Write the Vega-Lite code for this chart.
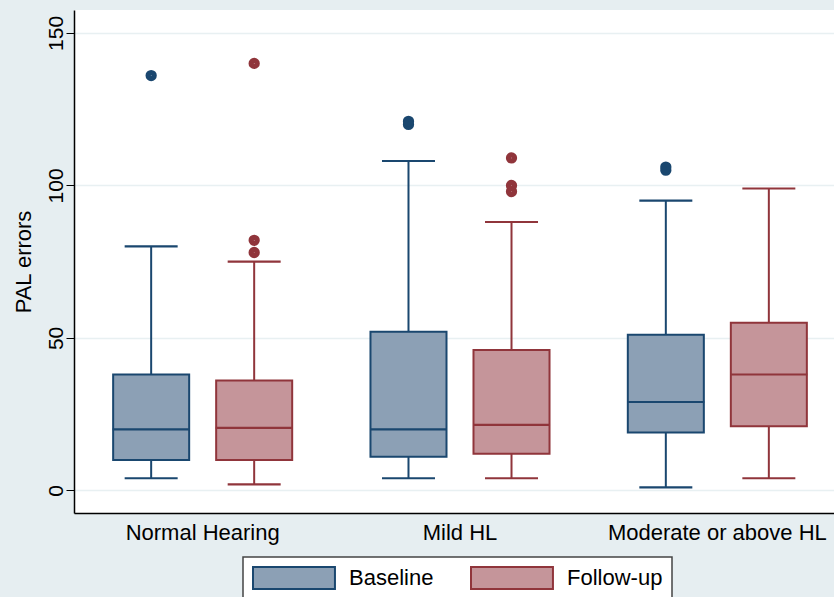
{
  "$schema": "https://vega.github.io/schema/vega-lite/v6.json",
  "autosize": {"type": "none"},
  "padding": {"left": 74, "top": 10, "right": 0, "bottom": 84},
  "width": 760,
  "height": 503,
  "background": "#E6EEF1",
  "config": {
    "font": "Liberation Sans",
    "view": {"fill": "white", "stroke": null},
    "axis": {"labelColor": "black", "titleColor": "black", "domainColor": "black", "domainWidth": 1.5, "tickColor": "black"},
    "legend": {
      "orient": "none",
      "legendX": 169,
      "legendY": 547,
      "direction": "horizontal",
      "fillColor": "white",
      "strokeColor": "#444444",
      "strokeWidth": 1.5,
      "padding": 9,
      "symbolType": "M-1,-1L6.45,-1L6.45,1L-1,1Z",
      "symbolSize": 484,
      "symbolStrokeWidth": 2,
      "symbolOpacity": 1,
      "labelFontSize": 22,
      "labelColor": "black",
      "labelOffset": 73,
      "columnPadding": 33,
      "title": null
    }
  },
  "datasets": {
    "stats": [
      {"group": "Normal Hearing", "series": "Baseline", "lo": 4, "q1": 10, "median": 20, "q3": 38, "hi": 80},
      {"group": "Normal Hearing", "series": "Follow-up", "lo": 2, "q1": 10, "median": 20.5, "q3": 36, "hi": 75},
      {"group": "Mild HL", "series": "Baseline", "lo": 4, "q1": 11, "median": 20, "q3": 52, "hi": 108},
      {"group": "Mild HL", "series": "Follow-up", "lo": 4, "q1": 12, "median": 21.5, "q3": 46, "hi": 88},
      {"group": "Moderate or above HL", "series": "Baseline", "lo": 1, "q1": 19, "median": 29, "q3": 51, "hi": 95},
      {"group": "Moderate or above HL", "series": "Follow-up", "lo": 4, "q1": 21, "median": 38, "q3": 55, "hi": 99}
    ],
    "outliers": [
      {"group": "Normal Hearing", "series": "Baseline", "value": 136},
      {"group": "Normal Hearing", "series": "Follow-up", "value": 78},
      {"group": "Normal Hearing", "series": "Follow-up", "value": 82},
      {"group": "Normal Hearing", "series": "Follow-up", "value": 140},
      {"group": "Mild HL", "series": "Baseline", "value": 120},
      {"group": "Mild HL", "series": "Baseline", "value": 121},
      {"group": "Mild HL", "series": "Follow-up", "value": 98},
      {"group": "Mild HL", "series": "Follow-up", "value": 100},
      {"group": "Mild HL", "series": "Follow-up", "value": 109},
      {"group": "Moderate or above HL", "series": "Baseline", "value": 105},
      {"group": "Moderate or above HL", "series": "Baseline", "value": 106}
    ]
  },
  "encoding": {
    "x": {
      "field": "group", "type": "nominal",
      "sort": ["Normal Hearing", "Mild HL", "Moderate or above HL"],
      "scale": {"range": [0, 772], "paddingInner": 0, "paddingOuter": 0},
      "axis": {"title": null, "labelAngle": 0, "labelFontSize": 22, "labelLimit": 500, "ticks": false, "labelPadding": 9, "grid": false}
    },
    "xOffset": {
      "field": "series", "type": "nominal",
      "sort": ["Baseline", "Follow-up"],
      "scale": {"paddingInner": 0.262, "paddingOuter": 0.38}
    }
  },
  "layer": [
    {
      "data": {"name": "stats"},
      "mark": {"type": "rule", "strokeWidth": 2},
      "encoding": {
        "y": {
          "field": "lo", "type": "quantitative",
          "scale": {"domain": [-7.4, 157.5], "nice": false, "zero": false},
          "axis": {
            "title": "PAL errors", "titleFontSize": 22, "titleFontWeight": "normal", "titlePadding": 10,
            "values": [0, 50, 100, 150], "labelAngle": -90, "labelFontSize": 21, "labelPadding": 0,
            "tickSize": 8, "grid": true, "gridColor": "#E8F0F2", "gridWidth": 1.5
          }
        },
        "y2": {"field": "hi"},
        "stroke": {
          "field": "series", "type": "nominal",
          "scale": {"domain": ["Baseline", "Follow-up"], "range": ["#1A476F", "#90353B"]}
        }
      }
    },
    {
      "data": {"name": "stats"},
      "mark": {"type": "tick", "size": 51, "thickness": 0.1, "filled": false, "strokeWidth": 2, "opacity": 1},
      "encoding": {
        "y": {"field": "lo", "type": "quantitative"},
        "stroke": {"field": "series", "type": "nominal"}
      }
    },
    {
      "data": {"name": "stats"},
      "mark": {"type": "tick", "size": 51, "thickness": 0.1, "filled": false, "strokeWidth": 2, "opacity": 1},
      "encoding": {
        "y": {"field": "hi", "type": "quantitative"},
        "stroke": {"field": "series", "type": "nominal"}
      }
    },
    {
      "data": {"name": "stats"},
      "mark": {"type": "bar", "strokeWidth": 2, "fillOpacity": 1},
      "encoding": {
        "y": {"field": "q1", "type": "quantitative"},
        "y2": {"field": "q3"},
        "fill": {
          "field": "series", "type": "nominal",
          "scale": {"domain": ["Baseline", "Follow-up"], "range": ["#8CA0B5", "#C5959A"]}
        },
        "stroke": {"field": "series", "type": "nominal"}
      }
    },
    {
      "data": {"name": "stats"},
      "mark": {"type": "tick", "size": 75, "thickness": 0.1, "filled": false, "strokeWidth": 2, "opacity": 1},
      "encoding": {
        "y": {"field": "median", "type": "quantitative"},
        "stroke": {"field": "series", "type": "nominal"}
      }
    },
    {
      "data": {"name": "outliers"},
      "mark": {"type": "point", "shape": "circle", "filled": false, "size": 28, "strokeWidth": 6, "opacity": 1},
      "encoding": {
        "y": {"field": "value", "type": "quantitative"},
        "stroke": {"field": "series", "type": "nominal"}
      }
    }
  ]
}
